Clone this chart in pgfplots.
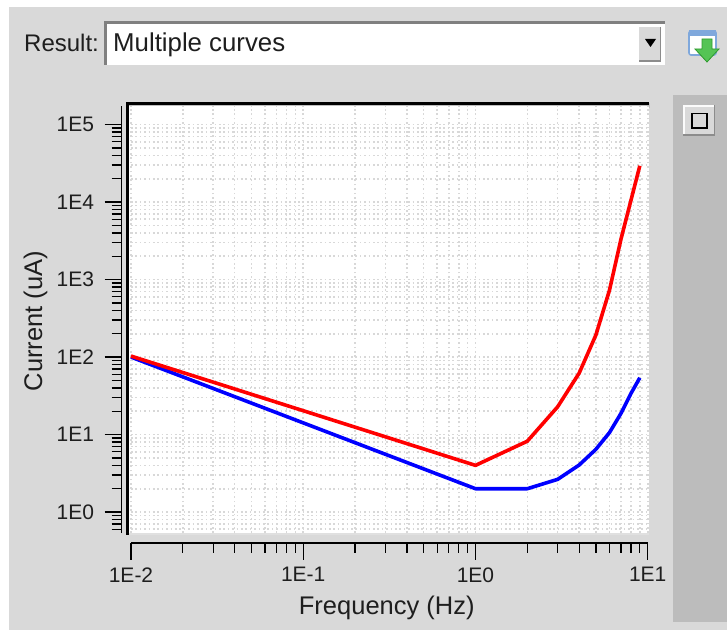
\documentclass[border=0pt]{standalone}
\usepackage{fontspec}
\setmainfont{Liberation Sans}
\usepackage{pgfplots}
\pgfplotsset{compat=1.18}
\definecolor{panel}{HTML}{D9D9D9}
\definecolor{side}{HTML}{BCBCBC}
\definecolor{gridc}{HTML}{D8D8D8}
\definecolor{txt}{HTML}{1E1E1E}
\definecolor{iconb}{HTML}{7FA8DC}
\definecolor{icong}{HTML}{55C455}
\definecolor{icongd}{HTML}{2E9A2E}
\begin{document}
\begin{tikzpicture}
\path[use as bounding box] (0,0) rectangle (727pt,630pt);
\begin{scope}[x=1pt,y=-1pt,shift={(0,-630)}]
  \fill[white] (0,0) rectangle (727,630);
  \fill[panel] (9,7) rectangle (727,630);
  % side bar and its button
  \fill[side] (673,95) rectangle (727,622);
  \fill[panel] (683,105) rectangle (715,136);
  \fill[white!90!panel] (683,105) rectangle (715,107);
  \fill[white!90!panel] (683,105) rectangle (685,136);
  \fill[black!45] (683,134.5) rectangle (715,136);
  \fill[black!45] (713.5,105) rectangle (715,136);
  \draw[black,line width=1.8pt] (692,113.5) rectangle (707,128);
  % result box
  \fill[white] (105,22) rectangle (665,65);
  \fill[black!50] (104,21) rectangle (665,24);
  \fill[black!50] (104,21) rectangle (107,65);
  \fill[panel] (639,27) rectangle (661,62);
  \fill[black!45] (639,60.5) rectangle (661,62);
  \fill[black!45] (659.5,27) rectangle (661,62);
  \fill[black] (645,39) -- (656,39) -- (650.5,47) -- cycle;
  \node[anchor=base west,inner sep=0pt,text=txt,font=\fontsize{24}{28}\selectfont] at (24,52) {Result:};
  \node[anchor=base west,inner sep=0pt,text=txt,font=\fontsize{25.8}{28}\selectfont] at (113,52) {Multiple curves};
  % download icon
  \fill[white] (689,31) rectangle (716,55);
  \draw[rounded corners=2pt,draw=iconb,line width=1.6pt] (689,31) rectangle (716,55);
  \fill[iconb] (689,30) rectangle (716,36);
  \fill[icong,draw=icongd,line width=.8pt] (702,39) -- (712,39) -- (712,49) -- (719,49) -- (707,62) -- (695,49) -- (702,49) -- cycle;
  % frame of the plot
  \fill[black!25] (127,103) rectangle (650,108);
  \fill[white] (129,106) rectangle (648.5,533);
  \fill[black!12] (129,533) rectangle (648.5,534.5);
  \fill[black] (126,102.5) rectangle (649,105.5);
  \fill[black] (126,102.5) rectangle (128.5,535);
\end{scope}
\begin{axis}[
  at={(131pt,97pt)},anchor=south west,
  scale only axis,width=516.7pt,height=427pt,
  xmode=log,ymode=log,log basis x=10,log basis y=10,
  xmin=0.01,xmax=10,
  ymin=0.536,ymax=173800,
  axis x line=bottom,axis y line=left,
  axis x line shift=10pt,axis y line shift=9.5pt,
  axis line style={-,black,line width=1.3pt},
  xtick={0.01,0.1,1,10},xticklabels={1E-2,1E-1,1E0,1E1},
  ytick={1,10,100,1000,10000,100000},yticklabels={1E0,1E1,1E2,1E3,1E4,1E5},
  minor xtick={0.02,0.03,0.04,0.05,0.06,0.07,0.08,0.09,0.2,0.3,0.4,0.5,0.6,0.7,0.8,0.9,2,3,4,5,6,7,8,9},
  minor ytick={0.6,0.7,0.8,0.9,2,3,4,5,6,7,8,9,20,30,40,50,60,70,80,90,200,300,400,500,600,700,800,900,2000,3000,4000,5000,6000,7000,8000,9000,20000,30000,40000,50000,60000,70000,80000,90000},
  tick align=outside,
  major tick length=17pt,minor tick length=10pt,
  tick style={black,line width=1.3pt},
  minor tick style={black,line width=1.3pt},
  grid=both,
  grid style={gridc,line width=1.6pt,dash pattern=on 1.6pt off 2.8pt},
  major grid style={gridc,line width=1.6pt,dash pattern=on 1.6pt off 2.8pt},
  minor grid style={gridc,line width=1.6pt,dash pattern=on 1.6pt off 2.8pt},
  tick label style={font=\fontsize{21}{24}\selectfont,text=txt},
  xticklabel style={yshift=-4pt},
  yticklabel style={xshift=-7pt},
  xlabel={Frequency (Hz)},ylabel={Current (uA)},
  label style={font=\fontsize{25.5}{28}\selectfont,text=txt},
  x label style={at={(axis description cs:0.495,-0.192)},anchor=base},
  y label style={at={(axis description cs:-0.172,0.496)},anchor=base,rotate=0},
  clip=false,
]
\addplot[blue,line width=3.6pt,line join=round] coordinates {
 (0.01,100) (1,2) (2,2) (3,2.64) (4,4.04) (5,6.44) (6,10.6) (7,18.8) (8,34) (9,54)};
\addplot[red,line width=3.6pt,line join=round] coordinates {
 (0.01,103) (1,4) (2,8.2) (3,22.8) (4,62) (5,192) (6,730) (7,3340) (8,10600) (9,29400)};
\end{axis}
\end{tikzpicture}
\end{document}
